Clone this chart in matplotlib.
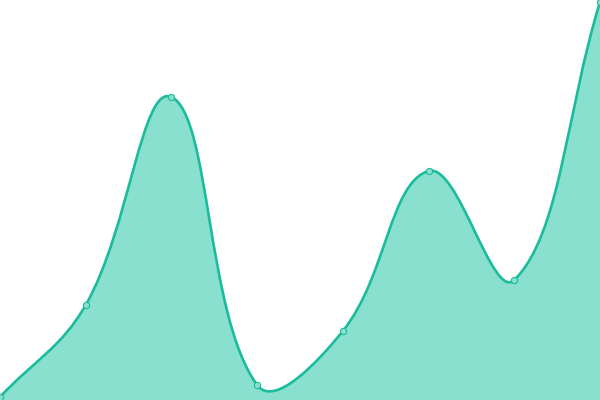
import numpy as np
import matplotlib
matplotlib.use("Agg")
import matplotlib.pyplot as plt
from matplotlib.path import Path
from matplotlib.patches import PathPatch

# values
labels = ["1", "2", "3", "4", "5", "6", "7", "8"]
values = [3, 95, 303, 15, 69, 229, 120, 398]

line_color = "#1abc9c"
fill_color = "#8ae0cf"
tension = 0.4

fig = plt.figure(figsize=(6, 4), dpi=100)
ax = fig.add_axes([0, 0, 1, 1])
ax.set_xlim(0, len(values) - 1)
ax.set_ylim(0, 400)
ax.axis("off")

x = np.arange(len(values), dtype=float)
y = np.array(values, dtype=float)

# work out bezier control points in pixel space (chart.js style spline)
pts = ax.transData.transform(np.column_stack([x, y]))
n = len(pts)
cp_prev = pts.copy()
cp_next = pts.copy()
for i in range(n):
    prev = pts[max(i - 1, 0)]
    cur = pts[i]
    nxt = pts[min(i + 1, n - 1)]
    d01 = np.hypot(*(cur - prev))
    d12 = np.hypot(*(nxt - cur))
    tot = d01 + d12
    if tot == 0:
        continue
    fa = tension * d01 / tot
    fb = tension * d12 / tot
    cp_prev[i] = cur - fa * (nxt - prev)
    cp_next[i] = cur + fb * (nxt - prev)

verts = [pts[0]]
codes = [Path.MOVETO]
for i in range(n - 1):
    verts += [cp_next[i], cp_prev[i + 1], pts[i + 1]]
    codes += [Path.CURVE4] * 3
inv = ax.transData.inverted()
verts = inv.transform(np.array(verts))

line_path = Path(verts, codes)
fill_verts = np.vstack([verts, [[x[-1], 0], [x[0], 0], verts[0]]])
fill_codes = codes + [Path.LINETO, Path.LINETO, Path.CLOSEPOLY]
fill_path = Path(fill_verts, fill_codes)

ax.add_patch(PathPatch(fill_path, facecolor=fill_color, edgecolor="none"))
ax.add_patch(PathPatch(line_path, facecolor="none", edgecolor=line_color, lw=1.9))
ax.plot(x, y, "o", ms=4.5, mfc=fill_color, mec=line_color, mew=0.8, clip_on=True)

fig.savefig("out.png", dpi=100)
